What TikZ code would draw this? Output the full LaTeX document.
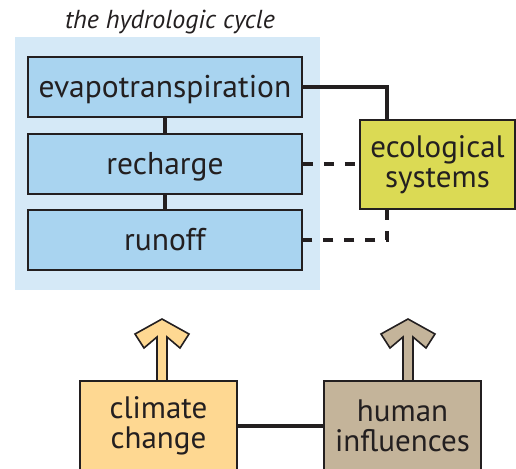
\documentclass[tikz,border=0pt]{standalone}
\usepackage{fontspec}
\setmainfont{PT Sans}
\usetikzlibrary{positioning}

\definecolor{inkgray}{RGB}{35,31,32}
\definecolor{cyclebg}{RGB}{213,233,247}
\definecolor{cyclefill}{RGB}{169,212,240}
\definecolor{ecofill}{RGB}{219,218,84}
\definecolor{climfill}{RGB}{254,216,146}
\definecolor{humfill}{RGB}{196,180,154}

\tikzset{
  stagebox/.style={draw=inkgray, line width=1.6pt, fill=cyclefill, text=inkgray,
    minimum width=274pt, minimum height=60pt, inner sep=0pt, text height=21pt, text depth=0pt,
    font=\fontsize{31.5}{33}\selectfont},
  driverbox/.style={draw=inkgray, line width=1.6pt, text=inkgray, align=center,
    minimum width=157pt, minimum height=90pt, inner sep=0pt, font=\fontsize{31}{30}\selectfont},
  link/.style={inkgray, line width=3.6pt},
  dashlink/.style={link, dash pattern=on 10pt off 11pt}
}

\begin{document}
\begin{tikzpicture}[x=1pt, y=-1pt]
    \clip (0,0) rectangle (516,468);
    % Ciclo hidrologico
    \fill[cyclebg] (15,37) rectangle (320,290);
    \node[font=\fontsize{26}{28}\selectfont\itshape, text=inkgray] (title) at (170,22) {the hydrologic cycle};
    \node[stagebox] (evapo) at (165,87) {evapotranspiration};
    \node[stagebox] (recharge) at (165,164) {recharge};
    \node[stagebox] (runoff) at (165,240) {runoff};
    \draw[link] (evapo) -- (recharge);
    \draw[link] (recharge) -- (runoff);
    % Sistemas ecologicos
    \node[driverbox, fill=ecofill, minimum width=155pt, minimum height=89pt] (eco) at (437.5,164.5) {ecological\\systems};
    \draw[link] (evapo.east) -| ([xshift=28pt]eco.north west);
    \draw[dashlink] (recharge.east) -- (recharge.east -| eco.west);
    \draw[dashlink] ([xshift=28pt]eco.south west) |- (runoff.east);
    % Fatores externos
    \node[driverbox, fill=climfill] (climate) at (158.5,426) {climate\\change};
    \node[driverbox, fill=humfill] (human) at (402.5,426) {human\\influences};
    \draw[link] (climate) -- (human);
    % Setas
    \foreach \x/\c in {162/climfill, 408/humfill}
        \filldraw[fill=\c, draw=inkgray, line width=1.6pt, line join=miter]
            (\x,319) -- (\x+27,334) -- (\x+18,348) -- (\x+5,337) -- (\x+5,381)
            -- (\x-5,381) -- (\x-5,337) -- (\x-18,348) -- (\x-27,334) -- cycle;
\end{tikzpicture}
\end{document}
